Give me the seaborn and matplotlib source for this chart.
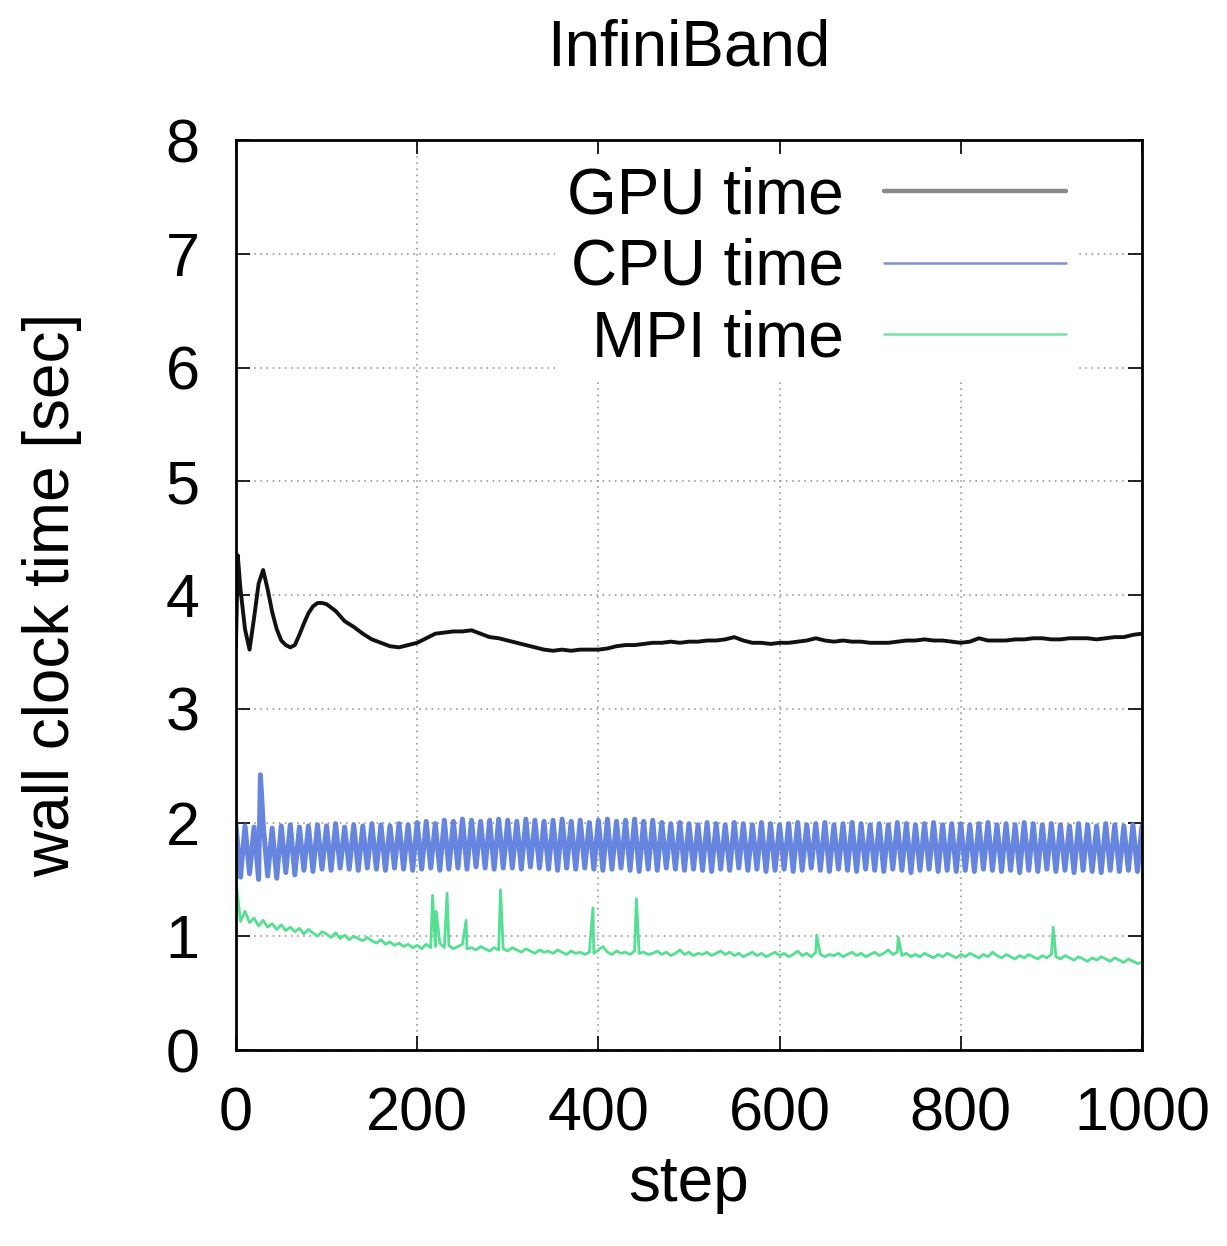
import numpy as np
import pandas as pd
import matplotlib
matplotlib.use("Agg")
import matplotlib.pyplot as plt
from matplotlib.lines import Line2D
import seaborn as sns

# ======= data =======
gpu_steps = [0, 2, 5, 10, 15, 20, 25, 30, 35, 40, 45, 50, 55, 60, 65, 70, 75, 80, 85, 90, 95,
             100, 110, 120, 130, 140, 150, 160, 170, 180, 190, 200, 210, 220, 230, 240, 250,
             260, 270, 280, 290, 300, 310, 320, 330, 340, 350, 360, 370, 380, 390, 400, 410,
             420, 430, 440, 450, 460, 470, 480, 490, 500, 510, 520, 530, 540, 550, 560, 570,
             580, 590, 600, 610, 620, 630, 640, 650, 660, 670, 680, 690, 700, 710, 720, 730,
             740, 750, 760, 770, 780, 790, 800, 810, 820, 830, 840, 850, 860, 870, 880, 890,
             900, 910, 920, 930, 940, 950, 960, 970, 980, 990, 1000]
gpu_time = [3.55, 4.35, 4.05, 3.70, 3.52, 3.80, 4.10, 4.22, 4.05, 3.85, 3.70, 3.60, 3.56, 3.54,
            3.56, 3.65, 3.75, 3.84, 3.90, 3.93, 3.93, 3.92, 3.86, 3.77, 3.72, 3.66, 3.61, 3.58,
            3.55, 3.54, 3.56, 3.58, 3.62, 3.66, 3.67, 3.68, 3.68, 3.69, 3.66, 3.63, 3.62, 3.60,
            3.58, 3.56, 3.54, 3.52, 3.51, 3.52, 3.51, 3.52, 3.52, 3.52, 3.53, 3.55, 3.56, 3.56,
            3.57, 3.58, 3.58, 3.59, 3.58, 3.59, 3.59, 3.60, 3.60, 3.61, 3.63, 3.60, 3.58, 3.58,
            3.57, 3.58, 3.58, 3.59, 3.60, 3.62, 3.60, 3.59, 3.60, 3.59, 3.59, 3.58, 3.58, 3.58,
            3.59, 3.60, 3.60, 3.61, 3.60, 3.60, 3.59, 3.58, 3.59, 3.62, 3.60, 3.60, 3.60, 3.61,
            3.61, 3.62, 3.62, 3.61, 3.61, 3.62, 3.62, 3.62, 3.61, 3.62, 3.63, 3.63, 3.65, 3.66]

# CPU time swings up and down every few steps: upper and lower turning points
cpu_hi_steps = list(range(0, 1001, 10))
cpu_hi = [1.98, 1.97, 1.96, 1.99, 1.95, 1.97, 1.98, 1.96, 1.97, 1.98,
          1.97, 1.99, 1.96, 1.98, 1.97, 1.99, 1.98, 1.97, 1.99, 1.98,
          2.00, 2.01, 1.99, 2.02, 2.01, 2.03, 2.02, 2.01, 2.02, 2.03,
          2.02, 2.01, 2.03, 2.02, 2.01, 2.02, 2.03, 2.01, 2.02, 2.00,
          2.02, 2.03, 2.01, 2.02, 2.03, 2.01, 2.02, 2.00, 1.99, 2.00,
          1.99, 1.98, 2.00, 1.99, 1.98, 2.00, 1.99, 1.98, 2.00, 1.99,
          1.98, 1.99, 2.00, 1.98, 1.99, 2.00, 1.98, 1.99, 2.00, 1.99,
          1.98, 1.99, 1.98, 2.00, 1.99, 1.98, 1.99, 2.00, 1.98, 1.99,
          1.99, 1.98, 1.99, 2.00, 1.98, 1.99, 1.98, 2.00, 1.99, 1.98,
          1.99, 1.98, 1.97, 1.99, 1.98, 1.97, 1.99, 1.98, 1.97, 1.98,
          1.97]
cpu_lo_steps = list(range(5, 1000, 10))
cpu_lo = [1.52, 1.55, 1.50, 1.53, 1.51, 1.56, 1.54, 1.58, 1.57, 1.59,
          1.58, 1.60, 1.59, 1.58, 1.60, 1.59, 1.58, 1.60, 1.59, 1.58,
          1.59, 1.60, 1.58, 1.59, 1.60, 1.59, 1.61, 1.60, 1.59, 1.60,
          1.60, 1.59, 1.61, 1.60, 1.59, 1.58, 1.60, 1.59, 1.60, 1.59,
          1.58, 1.59, 1.60, 1.58, 1.57, 1.59, 1.58, 1.60, 1.59, 1.58,
          1.59, 1.58, 1.57, 1.59, 1.58, 1.60, 1.58, 1.59, 1.57, 1.58,
          1.59, 1.57, 1.58, 1.60, 1.58, 1.57, 1.59, 1.58, 1.57, 1.59,
          1.58, 1.57, 1.59, 1.58, 1.56, 1.58, 1.59, 1.57, 1.58, 1.57,
          1.58, 1.57, 1.59, 1.58, 1.57, 1.58, 1.56, 1.58, 1.57, 1.59,
          1.57, 1.58, 1.56, 1.58, 1.57, 1.56, 1.58, 1.57, 1.58, 1.57]
cpu_spike_steps = [27]
cpu_spike = [2.42]

mpi_steps = list(range(0, 1001, 5))
mpi_time = [1.50, 1.13, 1.22, 1.12, 1.16, 1.09, 1.14, 1.08, 1.11, 1.06,
            1.10, 1.05, 1.08, 1.04, 1.07, 1.02, 1.06, 1.03, 1.00, 1.04,
            1.02, 0.99, 1.03, 0.98, 1.01, 0.97, 1.00, 0.98, 0.96, 0.99,
            0.96, 0.94, 0.97, 0.93, 0.95, 0.92, 0.94, 0.91, 0.93, 0.90,
            0.92, 0.89, 0.93, 0.90, 0.91, 0.94, 0.90, 0.92, 0.89, 0.91,
            0.93, 0.89, 0.90, 0.88, 0.91, 0.89, 0.87, 0.90, 0.88, 0.89,
            0.87, 0.90, 0.88, 0.86, 0.89, 0.87, 0.85, 0.88, 0.86, 0.87,
            0.85, 0.88, 0.86, 0.84, 0.87, 0.85, 0.86, 0.84, 0.86, 0.85,
            0.88, 0.91, 0.86, 0.84, 0.87, 0.85, 0.86, 0.84, 0.87, 0.85,
            0.86, 0.84, 0.85, 0.87, 0.84, 0.86, 0.83, 0.85, 0.88, 0.84,
            0.86, 0.83, 0.85, 0.84, 0.86, 0.83, 0.85, 0.87, 0.84, 0.86,
            0.83, 0.85, 0.82, 0.84, 0.86, 0.83, 0.85, 0.82, 0.84, 0.86,
            0.83, 0.85, 0.82, 0.84, 0.87, 0.83, 0.85, 0.82, 0.86, 0.84,
            0.82, 0.84, 0.83, 0.85, 0.82, 0.84, 0.86, 0.83, 0.85, 0.82,
            0.84, 0.86, 0.83, 0.85, 0.88, 0.84, 0.86, 0.83, 0.85, 0.82,
            0.84, 0.82, 0.85, 0.83, 0.81, 0.84, 0.82, 0.85, 0.83, 0.81,
            0.84, 0.82, 0.85, 0.83, 0.81, 0.84, 0.82, 0.86, 0.83, 0.81,
            0.84, 0.82, 0.80, 0.83, 0.81, 0.84, 0.82, 0.80, 0.83, 0.81,
            0.84, 0.82, 0.80, 0.83, 0.81, 0.79, 0.82, 0.80, 0.78, 0.81,
            0.79, 0.82, 0.80, 0.78, 0.81, 0.79, 0.77, 0.80, 0.78, 0.76,
            0.77]
mpi_spike_steps = [217, 221, 233, 254, 292, 394, 442, 641, 731, 902]
mpi_spike = [1.36, 1.22, 1.38, 1.14, 1.41, 1.25, 1.33, 1.01, 0.99, 1.08]

series_names = ["GPU time", "CPU time", "MPI time"]
x_ticks = [0, 200, 400, 600, 800, 1000]
y_ticks = [0, 1, 2, 3, 4, 5, 6, 7, 8]

# ======= build frames =======
gpu = pd.DataFrame({"step": gpu_steps, "time": gpu_time})
cpu = pd.concat([
    pd.DataFrame({"step": cpu_hi_steps, "time": cpu_hi}),
    pd.DataFrame({"step": cpu_lo_steps, "time": cpu_lo}),
    pd.DataFrame({"step": cpu_spike_steps, "time": cpu_spike}),
]).sort_values("step")
mpi = pd.concat([
    pd.DataFrame({"step": mpi_steps, "time": mpi_time}),
    pd.DataFrame({"step": mpi_spike_steps, "time": mpi_spike}),
]).sort_values("step")

# ======= style =======
sns.set_style("ticks")
plt.rcParams['font.family'] = ['Liberation Sans', 'DejaVu Sans']
for k in ("text.color", "axes.labelcolor", "xtick.color", "ytick.color"):
    plt.rcParams[k] = "black"
FS_TICK = 44
FS = 46
GPU_C, CPU_C, MPI_C = "#111111", "#6585de", "#55df92"

fig = plt.figure(figsize=(12.27, 12.46), dpi=100)
ax = fig.add_axes([0.1923, 0.1573, 0.7384, 0.7303])

sns.lineplot(data=gpu, x="step", y="time", color=GPU_C, lw=2.8, ax=ax, estimator=None)
sns.lineplot(data=cpu, x="step", y="time", color=CPU_C, lw=3.6, ax=ax, estimator=None)
sns.lineplot(data=mpi, x="step", y="time", color=MPI_C, lw=2.0, ax=ax, estimator=None)

ax.set_xlim(0, 1000)
ax.set_ylim(0, 8)
ax.set_xticks(x_ticks)
ax.set_yticks(y_ticks)
ax.set_axisbelow(True)
ax.grid(True, color="#8a8a8a", lw=1.1, ls=(0, (1, 3)))
ax.tick_params(direction="in", length=10, width=1.2, top=True, right=True,
               labelsize=FS_TICK, pad=26)
for s in ax.spines.values():
    s.set_linewidth(2)
    s.set_color("black")

ax.set_title("InfiniBand", fontsize=FS, pad=54)
ax.set_xlabel("step", fontsize=FS, labelpad=8)
ax.set_ylabel("wall clock time [sec]", fontsize=FS, labelpad=60)

handles = [Line2D([], [], color="#8a8a8a", lw=3.2),
           Line2D([], [], color="#7f8fd0", lw=1.8),
           Line2D([], [], color="#76e2a8", lw=1.8)]
leg = ax.legend(handles, series_names, loc="upper right", bbox_to_anchor=(0.93, 0.985),
                fontsize=FS, markerfirst=False, labelspacing=0.18, handlelength=2.85,
                handletextpad=0.62, borderpad=0.2, borderaxespad=0, frameon=True,
                fancybox=False)
leg.get_frame().set_facecolor("white")
leg.get_frame().set_edgecolor("none")
leg.get_frame().set_alpha(1)

fig.savefig("out.png", dpi=100)
